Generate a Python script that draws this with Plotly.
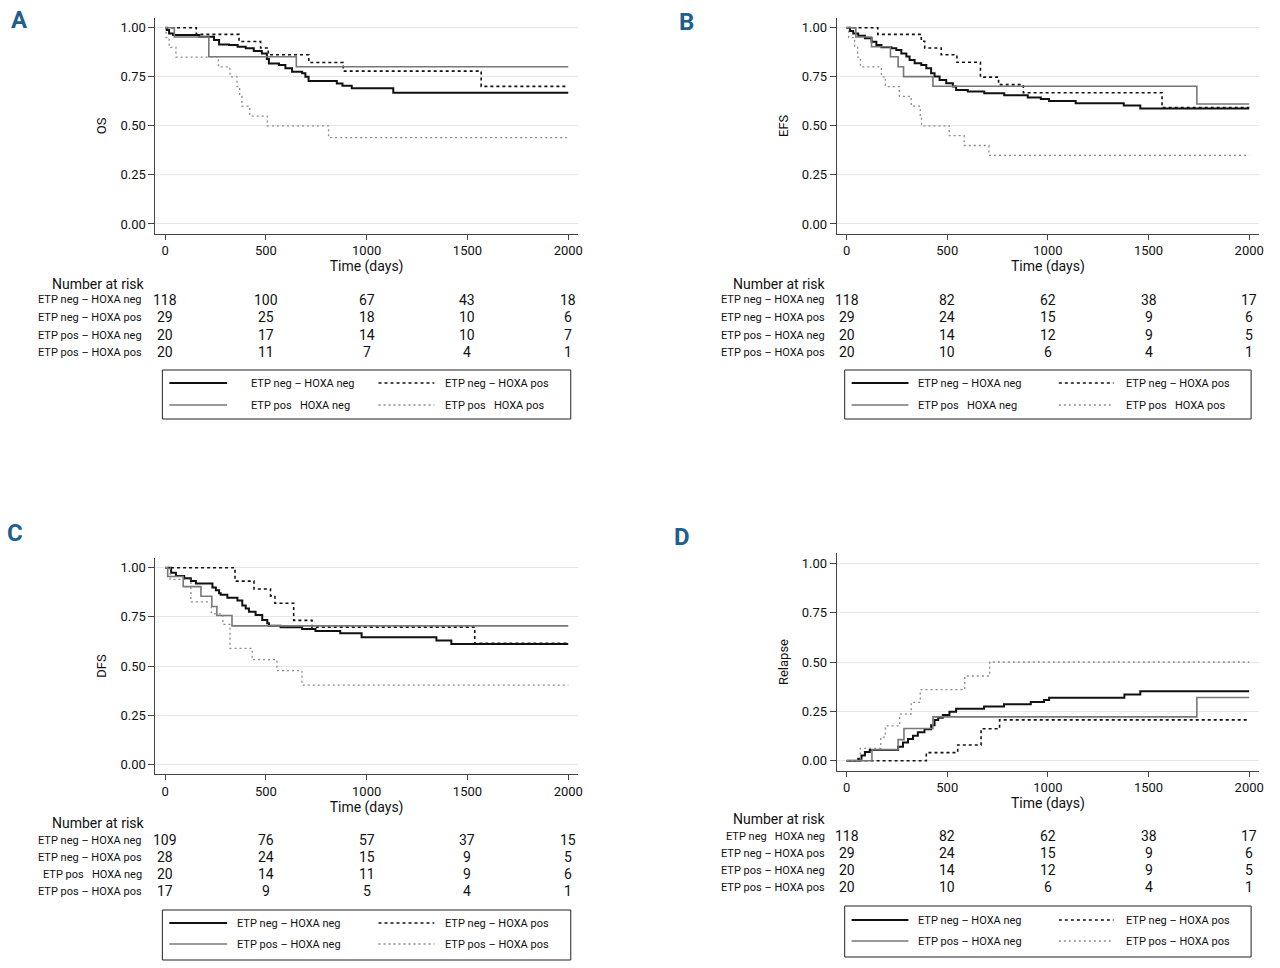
import plotly.graph_objects as go

W, H = 1280, 968
FONT = "Roboto, Liberation Sans, sans-serif"

# ---------------- data ----------------
TIME_TICKS = [0, 500, 1000, 1500, 2000]
Y_TICKS = [0.0, 0.25, 0.5, 0.75, 1.0]
X_END = 2000

# Panel A: OS
a_negneg_t = [0, 8, 20, 40, 170, 243, 268, 317, 360, 400, 440, 480, 505, 515, 565, 597, 630, 680, 696, 712, 852, 880, 926, 1132]
a_negneg_s = [1.0, 0.988, 0.971, 0.963, 0.954, 0.937, 0.915, 0.912, 0.903, 0.895, 0.881, 0.869, 0.84, 0.818, 0.810, 0.793, 0.776, 0.768, 0.750, 0.728, 0.716, 0.704, 0.691, 0.669]
a_negpos_t = [0, 155, 367, 474, 512, 713, 884, 1568]
a_negpos_s = [1.0, 0.966, 0.930, 0.897, 0.862, 0.823, 0.779, 0.701]
a_posneg_t = [0, 46, 217, 651]
a_posneg_s = [1.0, 0.953, 0.852, 0.801]
a_pospos_t = [0, 5, 20, 54, 265, 322, 357, 370, 381, 420, 507, 811]
a_pospos_s = [1.0, 0.95, 0.90, 0.85, 0.80, 0.75, 0.70, 0.65, 0.60, 0.55, 0.50, 0.44]

# Panel B: EFS
b_negneg_t = [0, 17, 33, 58, 91, 124, 148, 173, 223, 247, 272, 297, 313, 338, 371, 396, 420, 437, 462, 495, 528, 544, 602, 684, 783, 900, 965, 1006, 1138, 1377, 1459]
b_negneg_s = [1.0, 0.983, 0.971, 0.959, 0.946, 0.929, 0.912, 0.900, 0.895, 0.886, 0.869, 0.853, 0.836, 0.819, 0.810, 0.793, 0.768, 0.751, 0.734, 0.717, 0.700, 0.683, 0.675, 0.666, 0.656, 0.645, 0.637, 0.627, 0.615, 0.604, 0.588]
b_negpos_t = [0, 155, 371, 388, 470, 548, 665, 755, 878, 1567]
b_negpos_s = [1.0, 0.966, 0.931, 0.897, 0.862, 0.824, 0.748, 0.710, 0.669, 0.593]
b_posneg_t = [0, 46, 124, 218, 256, 283, 429, 1740]
b_posneg_s = [1.0, 0.953, 0.903, 0.852, 0.801, 0.751, 0.702, 0.611]
b_pospos_t = [0, 10, 40, 55, 69, 173, 193, 262, 321, 366, 372, 510, 584, 707]
b_pospos_s = [1.0, 0.95, 0.90, 0.85, 0.80, 0.75, 0.70, 0.65, 0.60, 0.55, 0.50, 0.45, 0.40, 0.35]

# Panel C: DFS
c_negneg_t = [0, 30, 54, 95, 128, 153, 235, 252, 268, 276, 309, 359, 383, 400, 416, 449, 482, 507, 515, 573, 680, 746, 869, 975, 1346, 1420]
c_negneg_s = [1.0, 0.975, 0.958, 0.946, 0.932, 0.920, 0.900, 0.885, 0.870, 0.862, 0.847, 0.833, 0.808, 0.793, 0.776, 0.759, 0.734, 0.717, 0.705, 0.697, 0.688, 0.678, 0.666, 0.646, 0.630, 0.612]
c_negpos_t = [0, 347, 441, 523, 545, 638, 729, 1536]
c_negpos_s = [1.0, 0.932, 0.892, 0.857, 0.819, 0.732, 0.698, 0.615]
c_posneg_t = [0, 13, 90, 178, 232, 257, 332]
c_posneg_s = [1.0, 0.955, 0.904, 0.855, 0.803, 0.757, 0.704]
c_pospos_t = [0, 25, 128, 230, 287, 322, 432, 555, 679]
c_pospos_s = [1.0, 0.941, 0.826, 0.765, 0.712, 0.590, 0.532, 0.476, 0.403]

# Panel D: Relapse (cumulative incidence)
d_negneg_t = [0, 58, 74, 91, 115, 256, 280, 305, 330, 354, 387, 420, 437, 455, 478, 511, 544, 683, 782, 915, 981, 1006, 1380, 1459]
d_negneg_s = [0.0, 0.010, 0.027, 0.044, 0.054, 0.071, 0.092, 0.110, 0.127, 0.144, 0.160, 0.180, 0.206, 0.218, 0.231, 0.248, 0.263, 0.274, 0.286, 0.298, 0.307, 0.319, 0.335, 0.352]
d_negpos_t = [0, 396, 552, 668, 760]
d_negpos_s = [0.0, 0.041, 0.080, 0.162, 0.207]
d_posneg_t = [0, 126, 256, 285, 429, 1740]
d_posneg_s = [0.0, 0.056, 0.107, 0.163, 0.222, 0.320]
d_pospos_t = [0, 68, 170, 193, 264, 321, 366, 587, 711]
d_pospos_s = [0.0, 0.063, 0.120, 0.177, 0.236, 0.296, 0.360, 0.429, 0.500]

# Number at risk
risk_a = [[118, 100, 67, 43, 18], [29, 25, 18, 10, 6], [20, 17, 14, 10, 7], [20, 11, 7, 4, 1]]
risk_b = [[118, 82, 62, 38, 17], [29, 24, 15, 9, 6], [20, 14, 12, 9, 5], [20, 10, 6, 4, 1]]
risk_c = [[109, 76, 57, 37, 15], [28, 24, 15, 9, 5], [20, 14, 11, 9, 6], [17, 9, 5, 4, 1]]
risk_d = [[118, 82, 62, 38, 17], [29, 24, 15, 9, 6], [20, 14, 12, 9, 5], [20, 10, 6, 4, 1]]

SP = "\u00a0\u00a0\u00a0"
labels_full = ["ETP neg \u2013 HOXA neg", "ETP neg \u2013 HOXA pos", "ETP pos \u2013 HOXA neg", "ETP pos \u2013 HOXA pos"]
labels_c_rows = ["ETP neg \u2013 HOXA neg", "ETP neg \u2013 HOXA pos", "ETP pos" + SP + "HOXA neg", "ETP pos \u2013 HOXA pos"]
labels_d_rows = ["ETP neg" + SP + "HOXA neg", "ETP neg \u2013 HOXA pos", "ETP pos \u2013 HOXA neg", "ETP pos \u2013 HOXA pos"]
legend_ab = ["ETP neg \u2013 HOXA neg", "ETP neg \u2013 HOXA pos", "ETP pos" + SP + "HOXA neg", "ETP pos" + SP + "HOXA pos"]
legend_cd = labels_full

# ---------------- styles ----------------
STYLES = [
    dict(color="#111111", width=2.0, dash="solid"),
    dict(color="#111111", width=1.6, dash="3px,3px"),
    dict(color="#777777", width=1.6, dash="solid"),
    dict(color="#8a8a8a", width=1.3, dash="2px,3px"),
]

# geometry (pixels in the 1280x968 page)
panels = [
    dict(letter="A", letter_xy=(20, 20), ytitle="OS",
         xpx=(156, 580), xrange=(-48, 2047), ypx=(17.9, 233.8),
         curves=[(a_negneg_t, a_negneg_s), (a_negpos_t, a_negpos_s), (a_posneg_t, a_posneg_s), (a_pospos_t, a_pospos_s)],
         risk=risk_a, rows=labels_full, legnames=legend_ab,
         nar_xy=(99, 284), lab_x=145, rows_y=[300, 317, 335, 352],
         box=(163, 573, 370, 419), leg_rows=(383, 405), leg_cols=((170, 228, 250), (380, 436, 445))),
    dict(letter="B", letter_xy=(689, 22), ytitle="EFS",
         xpx=(840, 1264), xrange=(-49, 2049), ypx=(17.9, 233.8),
         curves=[(b_negneg_t, b_negneg_s), (b_negpos_t, b_negpos_s), (b_posneg_t, b_posneg_s), (b_pospos_t, b_pospos_s)],
         risk=risk_b, rows=labels_full, legnames=legend_ab,
         nar_xy=(783, 284), lab_x=830, rows_y=[300, 317, 335, 352],
         box=(848, 1256, 370, 419), leg_rows=(383, 405), leg_cols=((855, 912, 920), (1063, 1118, 1128))),
    dict(letter="C", letter_xy=(15, 533), ytitle="DFS",
         xpx=(156, 580), xrange=(-48, 2047), ypx=(557.9, 774.1),
         curves=[(c_negneg_t, c_negneg_s), (c_negpos_t, c_negpos_s), (c_posneg_t, c_posneg_s), (c_pospos_t, c_pospos_s)],
         risk=risk_c, rows=labels_c_rows, legnames=legend_cd,
         nar_xy=(99, 823), lab_x=145, rows_y=[840, 857, 874, 891],
         box=(163, 573, 910, 960), leg_rows=(923, 944), leg_cols=((170, 228, 236), (380, 436, 445))),
    dict(letter="D", letter_xy=(685, 537), ytitle="Relapse",
         xpx=(840, 1264), xrange=(-49, 2049), ypx=(553.4, 770.6),
         curves=[(d_negneg_t, d_negneg_s), (d_negpos_t, d_negpos_s), (d_posneg_t, d_posneg_s), (d_pospos_t, d_pospos_s)],
         risk=risk_d, rows=labels_d_rows, legnames=legend_cd,
         nar_xy=(783, 819), lab_x=830, rows_y=[836, 853, 870, 887],
         box=(848, 1256, 906, 957), leg_rows=(920, 941), leg_cols=((855, 912, 920), (1063, 1118, 1128))),
]


def px(x):
    return x / W


def py(y):
    return 1 - y / H


fig = go.Figure()
annotations = []
shapes = []
layout_axes = {}

for i, p in enumerate(panels):
    n = i + 1
    sfx = "" if n == 1 else str(n)
    xref, yref = "x" + sfx, "y" + sfx

    for k, (t, s) in enumerate(p["curves"]):
        st = STYLES[k]
        fig.add_trace(go.Scatter(
            x=list(t) + [X_END], y=list(s) + [s[-1]], mode="lines",
            line=dict(shape="hv", color=st["color"], width=st["width"], dash=st["dash"]),
            name=p["legnames"][k], xaxis=xref, yaxis=yref, showlegend=False,
            hoverinfo="skip"))

    layout_axes["xaxis" + sfx] = dict(
        domain=[px(p["xpx"][0]), px(p["xpx"][1])], range=list(p["xrange"]),
        anchor=yref, tickvals=TIME_TICKS, ticks="outside", ticklen=5, tickcolor="#444",
        showline=True, linecolor="#444", linewidth=1, showgrid=False, zeroline=False,
        tickfont=dict(size=13, color="#111", family=FONT),
        title=dict(text="Time (days)", font=dict(size=14, color="#111", family=FONT), standoff=2))
    layout_axes["yaxis" + sfx] = dict(
        domain=[py(p["ypx"][1]), py(p["ypx"][0])], range=[-0.05, 1.05],
        anchor=xref, tickvals=Y_TICKS, tickformat=".2f", ticks="outside", ticklen=6, tickcolor="#444",
        showline=True, linecolor="#444", linewidth=1, showgrid=True, gridcolor="#e6e6e6", gridwidth=1,
        zeroline=False, tickfont=dict(size=13, color="#111", family=FONT),
        title=dict(text=p["ytitle"], font=dict(size=13, color="#111", family=FONT), standoff=10))

    # panel letter
    annotations.append(dict(text="<b>" + p["letter"] + "</b>", x=px(p["letter_xy"][0]), y=py(p["letter_xy"][1]),
                            xref="paper", yref="paper", showarrow=False, xanchor="center", yanchor="middle",
                            font=dict(size=24, color="#1f5f8f", family=FONT)))
    # number at risk table
    annotations.append(dict(text="Number at risk", x=px(p["nar_xy"][0]), y=py(p["nar_xy"][1]),
                            xref="paper", yref="paper", showarrow=False, xanchor="center", yanchor="middle",
                            font=dict(size=14, color="#111", family=FONT)))
    for r, (lab, vals) in enumerate(zip(p["rows"], p["risk"])):
        ypos = py(p["rows_y"][r])
        annotations.append(dict(text=lab, x=px(p["lab_x"]), y=ypos, xref="paper", yref="paper",
                                showarrow=False, xanchor="right", yanchor="middle",
                                font=dict(size=11, color="#111", family=FONT)))
        for tv, v in zip(TIME_TICKS, vals):
            annotations.append(dict(text=str(v), x=tv, y=ypos, xref=xref, yref="paper",
                                    showarrow=False, xanchor="center", yanchor="middle",
                                    font=dict(size=14, color="#111", family=FONT)))

    # legend box (two columns x two rows)
    bx0, bx1, by0, by1 = p["box"]
    shapes.append(dict(type="rect", xref="paper", yref="paper", x0=px(bx0), x1=px(bx1), y0=py(by1), y1=py(by0),
                       line=dict(color="#222", width=1), fillcolor="rgba(0,0,0,0)", layer="above"))
    for k in range(4):
        row, col = k // 2, k % 2
        lx0, lx1, tx = p["leg_cols"][col]
        ly = p["leg_rows"][row]
        st = STYLES[k]
        shapes.append(dict(type="line", xref="paper", yref="paper", x0=px(lx0), x1=px(lx1), y0=py(ly), y1=py(ly),
                           line=dict(color=st["color"], width=st["width"], dash=st["dash"]), layer="above"))
        annotations.append(dict(text=p["legnames"][k], x=px(tx), y=py(ly), xref="paper", yref="paper",
                                showarrow=False, xanchor="left", yanchor="middle",
                                font=dict(size=11, color="#111", family=FONT)))

fig.update_layout(
    width=W, height=H, margin=dict(l=0, r=0, t=0, b=0),
    paper_bgcolor="white", plot_bgcolor="white",
    font=dict(family=FONT, color="#111"),
    annotations=annotations, shapes=shapes, showlegend=False,
    **layout_axes)

fig.write_html("out.html", config={"displayModeBar": False},
               post_script="document.body.style.margin='0';")
